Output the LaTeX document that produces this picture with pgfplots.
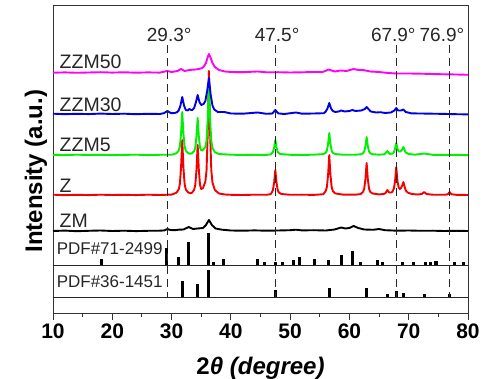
\documentclass[border=0pt]{standalone}
\usepackage{fontspec}
\setmainfont{Liberation Sans}
\usepackage{pgfplots}
\pgfplotsset{compat=1.18}
\definecolor{cmag}{RGB}{255,0,255}
\definecolor{cblue}{RGB}{0,0,230}
\definecolor{cgreen}{RGB}{0,240,0}
\definecolor{cred}{RGB}{245,0,0}
\begin{document}
\begin{tikzpicture}
\begin{axis}[name=ax,
  scale only axis, width=415pt, height=308pt,
  xmin=10, xmax=80, ymin=0, ymax=308,
  clip=false,
  axis line style={line width=0.9pt, black!80},
  xtick={10,20,...,80}, minor x tick num=1,
  xtick pos=bottom, tick align=outside,
  major tick length=7pt, minor tick length=4pt,
  tick style={line width=0.9pt, black!80},
  ytick=\empty,
  /pgf/number format/assume math mode=true,
  xticklabel style={font=\bfseries\fontsize{21}{21}\selectfont},
  xlabel={\textbf{2\textit{θ (degree)}}},
  xlabel style={at={(axis description cs:0.5,0)}, anchor=base, yshift=-61pt, font=\fontsize{24}{24}\selectfont},
  ylabel={\textbf{Intensity (a.u.)}},
  ylabel style={at={(axis description cs:-0.0265,0.46)}, anchor=base, font=\fontsize{24}{24}\selectfont},
  unbounded coords=jump,
]
% ZM black
\addplot[black, line width=1.9pt, line join=round] coordinates {
(10,82)(12,82.4)(14,81.8)(16,82.2)(18,82.5)(20,82)(22,82.3)(24,81.9)(26,82.2)(28,82.3)(28.8,82.6)(29.3,84)(29.8,83)(30.5,82.8)(31.2,83.3)(32,83.5)(32.9,86)(33.6,84)(34.4,84.5)(35.3,85)(35.8,88)(36.3,93)(36.8,88)(37.4,84.5)(38.5,83.3)(40,82.5)(42,82.3)(44,82.6)(46,82.3)(48,82.5)(50,82.8)(51,83.3)(52,82.6)(54,82.8)(56,82.5)(57.5,83.5)(58.6,85.5)(59.3,84.5)(60,85)(60.7,87)(61.5,85)(62.5,83.5)(64,83.2)(65,84)(66,82.8)(68,82.3)(70,82.5)(72,82.2)(74,82.3)(76,82)(78,82.2)(80,82)};
% Z red
\addplot[cred, line width=1.9pt, line join=round] coordinates {
(10,118.3)(12,117.8)(14,118.2)(16,117.9)(18,118.3)(20,118)(22,118.2)(24,117.9)(26,118.3)(28,118)(30,118.4)(30.8,120.2)(31.2,123.5)(31.4,129)(31.6,145.5)(31.8,173)(32.0,145.5)(32.2,129)(32.4,123.5)(32.8,120.5)(33.2,119.8)(33.4,120)(33.8,123)(34.0,128)(34.2,143)(34.4,168)(34.6,143)(34.8,128)(35.0,124)(35.3,125)(35.7,131.4)(35.9,142.8)(36.1,180)(36.3,242)(36.5,180)(36.7,142.8)(36.9,130.4)(37.3,123)(38,119.5)(39,118.5)(40,118.2)(42,118)(44,118.3)(46,118.2)(46.7,118.8)(46.9,120.5)(47.1,123)(47.3,130.5)(47.5,143)(47.7,130.5)(47.9,123)(48.1,120.5)(48.5,119)(50,118.2)(52,118.3)(54,118.1)(55.6,118.8)(56.0,122)(56.2,126)(56.4,138)(56.6,158)(56.8,138)(57.0,126)(57.2,122)(57.6,119.6)(59,118.3)(61,118.3)(61.9,118.9)(62.3,121.2)(62.5,124.4)(62.7,134)(62.9,150)(63.1,134)(63.3,124.4)(63.5,121.2)(63.9,119.5)(65,118.6)(65.8,119)(66.1,120)(66.4,123)(66.7,120.5)(67.1,120.5)(67.3,121.8)(67.5,124.6)(67.7,132)(67.9,146)(68.1,132)(68.3,125.6)(68.5,124)(68.7,125)(68.9,127.5)(69.1,131)(69.3,126.5)(69.5,122.6)(69.8,120.5)(70.5,119)(71.5,118.5)(72.2,119)(72.6,121)(73,119)(74,118.3)(76,118.2)(76.6,118.7)(76.9,121)(77.2,118.7)(78,118.2)(80,118)};
% ZZM5 green
\addplot[cgreen, line width=1.9pt, line join=round] coordinates {
(10,158.2)(12,157.9)(14,158.3)(16,158)(18,158.2)(20,157.8)(22,158.1)(24,158.3)(26,157.9)(28,158.2)(30,158.2)(30.8,159.7)(31.2,162.3)(31.4,166.6)(31.6,179.5)(31.8,201)(32.0,179.5)(32.2,166.6)(32.4,162.3)(32.8,159.8)(33.2,159.2)(33.4,159.6)(33.8,161.7)(34.0,165.4)(34.2,176.5)(34.4,195)(34.6,176.5)(34.8,165.4)(35.0,162.5)(35.3,163)(35.7,166)(35.9,172)(36.1,193)(36.3,228)(36.5,193)(36.7,172)(36.9,165)(37.3,160.8)(38,159)(40,158.3)(42,158)(44,158.2)(46,158.1)(46.7,158.6)(47.1,161)(47.3,165.5)(47.5,173)(47.7,165.5)(47.9,161)(48.3,159)(50,158.2)(52,158)(54,158.3)(55.6,158.9)(56.0,160.2)(56.2,162.4)(56.4,169)(56.6,180)(56.8,169)(57.0,162.4)(57.2,160.2)(57.6,159)(59,158.2)(61,158.3)(61.9,158.7)(62.3,159.8)(62.5,161.6)(62.7,167)(62.9,176)(63.1,167)(63.3,161.6)(63.5,159.8)(63.9,158.8)(65,158.3)(65.9,158.7)(66.4,162)(66.8,159)(67.3,159.5)(67.5,160.8)(67.7,164.5)(67.9,170)(68.1,164.5)(68.3,161.5)(68.6,161.5)(68.9,163.5)(69.1,166)(69.3,163)(69.5,160.5)(70,159)(71,158.3)(72.6,159.5)(74,158.2)(76,158)(78,158.1)(80,157.9)};
% ZZM30 blue
\addplot[cblue, line width=1.9pt, line join=round] coordinates {
(10,199.3)(12,198.8)(14,199.2)(16,198.9)(18,199.4)(20,199)(22,199.3)(24,198.8)(26,199.2)(28,199)(28.7,199.8)(29.3,202)(29.9,199.8)(30.5,200)(30.9,200.7)(31.2,202.4)(31.5,207.5)(31.8,216)(32.1,207.5)(32.4,203)(32.7,202.5)(33.0,204)(33.3,203)(33.5,203)(33.8,205)(34.1,210.5)(34.4,218)(34.7,211)(35.0,208)(35.4,209)(35.7,212)(36.0,222)(36.3,235)(36.6,218)(36.9,207.5)(37.2,203.5)(37.8,201)(38.9,201)(40,199.5)(42,199.3)(44.5,200.5)(46,199.2)(47,199.5)(47.5,203)(48,199.6)(49,199)(51,200.5)(52,199.3)(54,199.5)(55.7,199.8)(56.0,201.5)(56.3,204.5)(56.6,210)(56.9,204.5)(57.2,202)(57.6,201)(58.2,201.5)(58.6,202.5)(59.2,201.5)(60,202)(60.5,203)(61,202)(62,202.5)(62.6,204)(62.9,206)(63.2,204)(63.6,201.5)(64.5,200.5)(65.2,200.8)(66,200)(67,200.5)(67.6,202.5)(67.9,205)(68.2,202.5)(68.7,202.5)(69.1,203.5)(69.5,201)(70.5,199.6)(72,199.5)(74,199.3)(76,199.1)(78,198.8)(80,198.6)};
% ZZM50 magenta
\addplot[cmag, line width=1.9pt, line join=round] coordinates {
(10,240.3)(12,240.6)(14,240.2)(16,240.5)(18,240.8)(20,240.4)(22,240.7)(24,240.3)(26,240.6)(28,240.4)(29.3,242)(30,241)(31,242)(31.6,244)(32.2,242)(33,243)(34,243.5)(34.6,244)(35.2,245)(35.5,247)(35.8,250)(36.1,256)(36.3,259)(36.6,255)(36.9,250)(37.3,246)(38,243)(39,241.5)(40,241)(42,240.8)(44.5,241.5)(46,240.7)(48,240.8)(50,240.5)(52,240.7)(54,241)(55.5,241)(56.5,243.5)(57.5,241.5)(58.5,242.5)(59.5,242)(60.7,244)(61.5,243)(62.3,243)(63.5,241.5)(65,241)(66.5,240)(68,239.5)(70,239.5)(72,239.3)(74,239)(76,238.7)(78,238.5)(80,238.2)};
% separators
\addplot[black!85, line width=0.9pt] coordinates {(10,48)(80,48)};
\addplot[black!85, line width=0.9pt] coordinates {(10,16)(80,16)};
% PDF#71-2499 sticks
\addplot[black, line width=3.1pt] coordinates {
(18.2,48)(18.2,54)(18.2,nan)
(29.2,48)(29.2,65)(29.2,nan)
(31.1,48)(31.1,56)(31.1,nan)
(32.9,48)(32.9,71)(32.9,nan)
(36.3,48)(36.3,80)(36.3,nan)
(37.0,48)(37.0,51)(37.0,nan)
(38.8,48)(38.8,54)(38.8,nan)
(44.5,48)(44.5,54)(44.5,nan)
(45.7,48)(45.7,51)(45.7,nan)
(47.5,48)(47.5,51)(47.5,nan)
(48.7,48)(48.7,51)(48.7,nan)
(50.5,48)(50.5,53)(50.5,nan)
(51.6,48)(51.6,56)(51.6,nan)
(54.1,48)(54.1,54)(54.1,nan)
(56.4,48)(56.4,53)(56.4,nan)
(58.7,48)(58.7,58)(58.7,nan)
(60.5,48)(60.5,62)(60.5,nan)
(61.8,48)(61.8,51)(61.8,nan)
(64.8,48)(64.8,53)(64.8,nan)
(65.6,48)(65.6,51)(65.6,nan)
(69.0,48)(69.0,51)(69.0,nan)
(70.8,48)(70.8,51)(70.8,nan)
(72.8,48)(72.8,51)(72.8,nan)
(73.6,48)(73.6,51)(73.6,nan)
(74.6,48)(74.6,51.5)(74.6,nan)
(77.7,48)(77.7,51)(77.7,nan)
(79.2,48)(79.2,51)};
% PDF#36-1451 sticks
\addplot[black, line width=3.1pt] coordinates {
(31.8,16)(31.8,32)(31.8,nan)
(34.4,16)(34.4,29)(34.4,nan)
(36.3,16)(36.3,43)(36.3,nan)
(47.5,16)(47.5,23)(47.5,nan)
(56.6,16)(56.6,25)(56.6,nan)
(62.9,16)(62.9,25)(62.9,nan)
(66.4,16)(66.4,18.5)(66.4,nan)
(68.0,16)(68.0,22)(68.0,nan)
(69.1,16)(69.1,19.5)(69.1,nan)
(72.6,16)(72.6,18.5)(72.6,nan)
(76.9,16)(76.9,18.5)};
% dashed reference lines
\addplot[black!85, line width=1.5pt, dash pattern=on 8pt off 5pt] coordinates {(29.3,268)(29.3,16)};
\addplot[black!85, line width=1.5pt, dash pattern=on 8pt off 5pt] coordinates {(47.5,268)(47.5,16)};
\addplot[black!85, line width=1.5pt, dash pattern=on 8pt off 5pt] coordinates {(67.9,268)(67.9,16)};
\addplot[black!85, line width=1.5pt, dash pattern=on 8pt off 5pt] coordinates {(76.9,268)(76.9,16)};
% labels
\begin{scope}[every node/.style={inner sep=0pt, anchor=base, text=black!85, font=\fontsize{19}{19}\selectfont}]
\node at (axis cs:29.6,271) {29.3°};
\node at (axis cs:47.8,271) {47.5°};
\node at (axis cs:67.4,271) {67.9°};
\node at (axis cs:75.6,271) {76.9°};
\end{scope}
\begin{scope}[every node/.style={inner sep=0pt, anchor=base west, text=black!85, font=\fontsize{19.5}{19.5}\selectfont}]
\node at (axis cs:11.1,244) {ZZM50};
\node at (axis cs:11.1,201) {ZZM30};
\node at (axis cs:11.1,161) {ZZM5};
\node at (axis cs:11.1,120) {Z};
\node at (axis cs:11.1,85) {ZM};
\end{scope}
\begin{scope}[every node/.style={inner sep=0pt, anchor=base west, text=black!85, font=\fontsize{17}{17}\selectfont}]
\node at (axis cs:10.6,58) {PDF\#71-2499};
\node at (axis cs:10.6,25) {PDF\#36-1451};
\end{scope}
\end{axis}
\pgfresetboundingbox
\path ([xshift=-53pt,yshift=-66pt]ax.south west) rectangle ([xshift=18pt,yshift=5pt]ax.north east);
\end{tikzpicture}
\end{document}
